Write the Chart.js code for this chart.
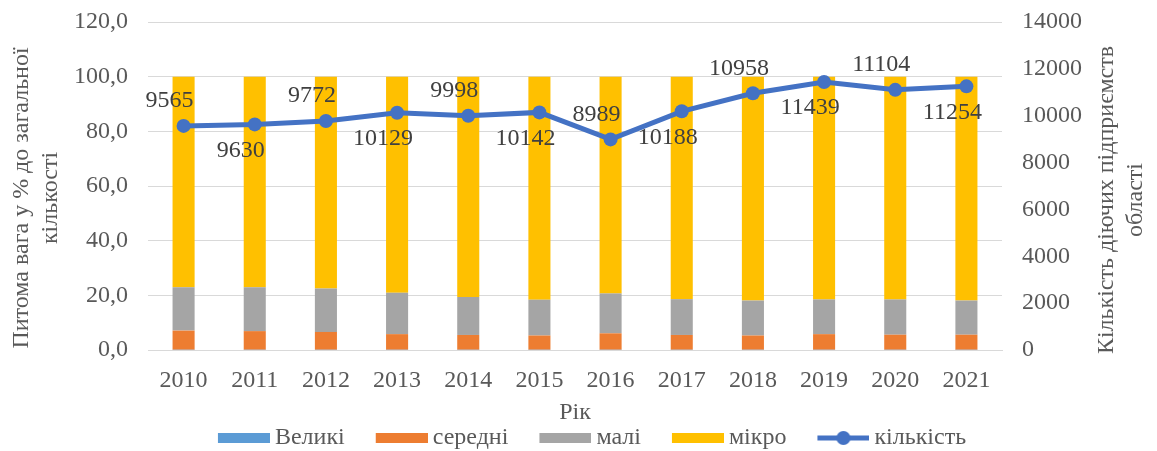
<!DOCTYPE html>
<html>
<head>
<meta charset="utf-8">
<script src="https://cdn.jsdelivr.net/npm/chart.js@4.4.1/dist/chart.umd.min.js"></script>
<style>html,body{margin:0;padding:0;background:#fff;}canvas{display:block;}</style>
</head>
<body>
<canvas id="c" width="1157" height="451"></canvas>
<script>
// ---- data ----
const years  = ['2010','2011','2012','2013','2014','2015','2016','2017','2018','2019','2020','2021'];
const large  = [0.1, 0.1, 0.1, 0.1, 0.1, 0.1, 0.1, 0.1, 0.1, 0.1, 0.1, 0.1];
const medium = [7.0, 6.8, 6.5, 5.7, 5.4, 5.2, 6.0, 5.4, 5.2, 5.7, 5.5, 5.5];
const small  = [15.9, 16.1, 15.9, 15.1, 13.9, 13.1, 14.6, 13.1, 12.8, 12.7, 12.9, 12.5];
const micro  = [77.0, 77.0, 77.5, 79.1, 80.6, 81.6, 79.3, 81.4, 81.9, 81.5, 81.5, 81.9];
const count  = [9565, 9630, 9772, 10129, 9998, 10142, 8989, 10188, 10958, 11439, 11104, 11254];
const seriesNames = ['Великі', 'середні', 'малі', 'мікро', 'кількість'];
const leftAxisTitle  = ['Питома вага у % до загальної', 'кількості'];
const rightAxisTitle = ['Кількість діючих підприємств', 'області'];
const xAxisTitle = 'Рік';
const leftMax = 120, leftStep = 20;
const rightMax = 14000, rightStep = 2000;

// ---- styles ----
const FONT = "'Liberation Serif', 'Times New Roman', serif";
const TXT = '#595959';
const colors = ['#5B9BD5', '#ED7D31', '#A5A5A5', '#FFC000', '#4472C4'];
Chart.defaults.font.family = FONT;
Chart.defaults.color = TXT;

function legendImage(i) {
  const c = document.createElement('canvas');
  c.width = 86; c.height = 16;
  const g = c.getContext('2d');
  if (i < 4) {
    g.fillStyle = colors[i];
    g.fillRect(34, 3, 52, 10);
  } else {
    g.strokeStyle = colors[i];
    g.lineWidth = 5;
    g.beginPath(); g.moveTo(34, 8); g.lineTo(86, 8); g.stroke();
    g.fillStyle = colors[i];
    g.beginPath(); g.arc(60, 8, 7, 0, Math.PI * 2); g.fill();
  }
  return c;
}
const legendImages = seriesNames.map((_, i) => legendImage(i));

const extras = {
  id: 'extras',
  afterDatasetsDraw(chart) {
    const ctx = chart.ctx;
    const meta = chart.getDatasetMeta(4);
    ctx.save();
    ctx.font = '24px ' + FONT;
    ctx.fillStyle = '#404040';
    ctx.textAlign = 'center';
    ctx.textBaseline = 'middle';
    meta.data.forEach((pt, i) => {
      const dy = (i % 2 === 0) ? -25 : 26;
      ctx.fillText(String(count[i]), pt.x - 14, pt.y + dy);
    });
    ctx.restore();
  },
  afterDraw(chart) {
    const ctx = chart.ctx;
    ctx.save();
    ctx.font = '24px ' + FONT;
    ctx.fillStyle = TXT;
    ctx.textAlign = 'center';
    ctx.textBaseline = 'middle';
    ctx.save();
    ctx.translate(22, 198);
    ctx.rotate(-Math.PI / 2);
    ctx.fillText(leftAxisTitle[0], 0, 0);
    ctx.fillText(leftAxisTitle[1], 0, 29);
    ctx.restore();
    ctx.save();
    ctx.translate(1107, 200);
    ctx.rotate(-Math.PI / 2);
    ctx.fillText(rightAxisTitle[0], 0, 0);
    ctx.fillText(rightAxisTitle[1], 0, 29);
    ctx.restore();
    ctx.restore();
  }
};

const barDs = [large, medium, small, micro].map((d, i) => ({
  type: 'bar', label: seriesNames[i], data: d, backgroundColor: colors[i],
  yAxisID: 'y', stack: 's', order: 1, barPercentage: 0.31, categoryPercentage: 1.0
}));

new Chart(document.getElementById('c'), {
  data: {
    labels: years,
    datasets: [...barDs, {
      type: 'line', label: seriesNames[4], data: count, yAxisID: 'y1', order: 0,
      borderColor: colors[4], backgroundColor: colors[4], borderWidth: 5,
      pointRadius: 7, pointHoverRadius: 7, pointBorderWidth: 0, pointBackgroundColor: colors[4], tension: 0
    }]
  },
  options: {
    responsive: false,
    devicePixelRatio: 1,
    animation: false,
    layout: { padding: { top: 22, left: 0, right: 0, bottom: -9 } },
    plugins: {
      tooltip: { enabled: false },
      legend: {
        position: 'bottom', align: 'center',
        labels: {
          usePointStyle: true, pointStyleWidth: 72, boxHeight: 10, padding: 4, color: TXT,
          font: { size: 24, family: FONT },
          generateLabels(chart) {
            return chart.data.datasets.map((ds, i) => ({
              text: ds.label, pointStyle: legendImages[i], fillStyle: colors[i], strokeStyle: colors[i],
              lineWidth: 0, hidden: false, datasetIndex: i, fontColor: TXT
            }));
          }
        }
      }
    },
    scales: {
      x: {
        stacked: true, offset: true,
        grid: { display: false, drawTicks: false },
        border: { display: true, color: '#d9d9d9', width: 1 },
        ticks: { color: TXT, font: { size: 24, family: FONT }, padding: 16, maxRotation: 0 },
        title: { display: true, text: xAxisTitle, color: TXT, font: { size: 24, lineHeight: 1, family: FONT }, padding: { top: 0, bottom: -3 } },
        afterFit(s) { s.height = 72; }
      },
      y: {
        position: 'left', stacked: true, min: 0, max: leftMax,
        grid: { color: '#d9d9d9', lineWidth: 1, drawTicks: false },
        border: { display: false },
        ticks: { stepSize: leftStep, color: TXT, font: { size: 24, family: FONT }, padding: 20,
          callback: v => v.toFixed(1).replace('.', ',') },
        afterFit(s) { s.width = 148; s.paddingTop = 0; s.paddingBottom = 0; }
      },
      y1: {
        position: 'right', min: 0, max: rightMax,
        grid: { display: false, drawTicks: false },
        border: { display: false },
        ticks: { stepSize: rightStep, color: TXT, font: { size: 24, family: FONT }, padding: 20, callback: v => String(v) },
        afterFit(s) { s.width = 155; s.paddingTop = 0; s.paddingBottom = 0; }
      }
    }
  },
  plugins: [extras]
});
</script>
</body>
</html>
